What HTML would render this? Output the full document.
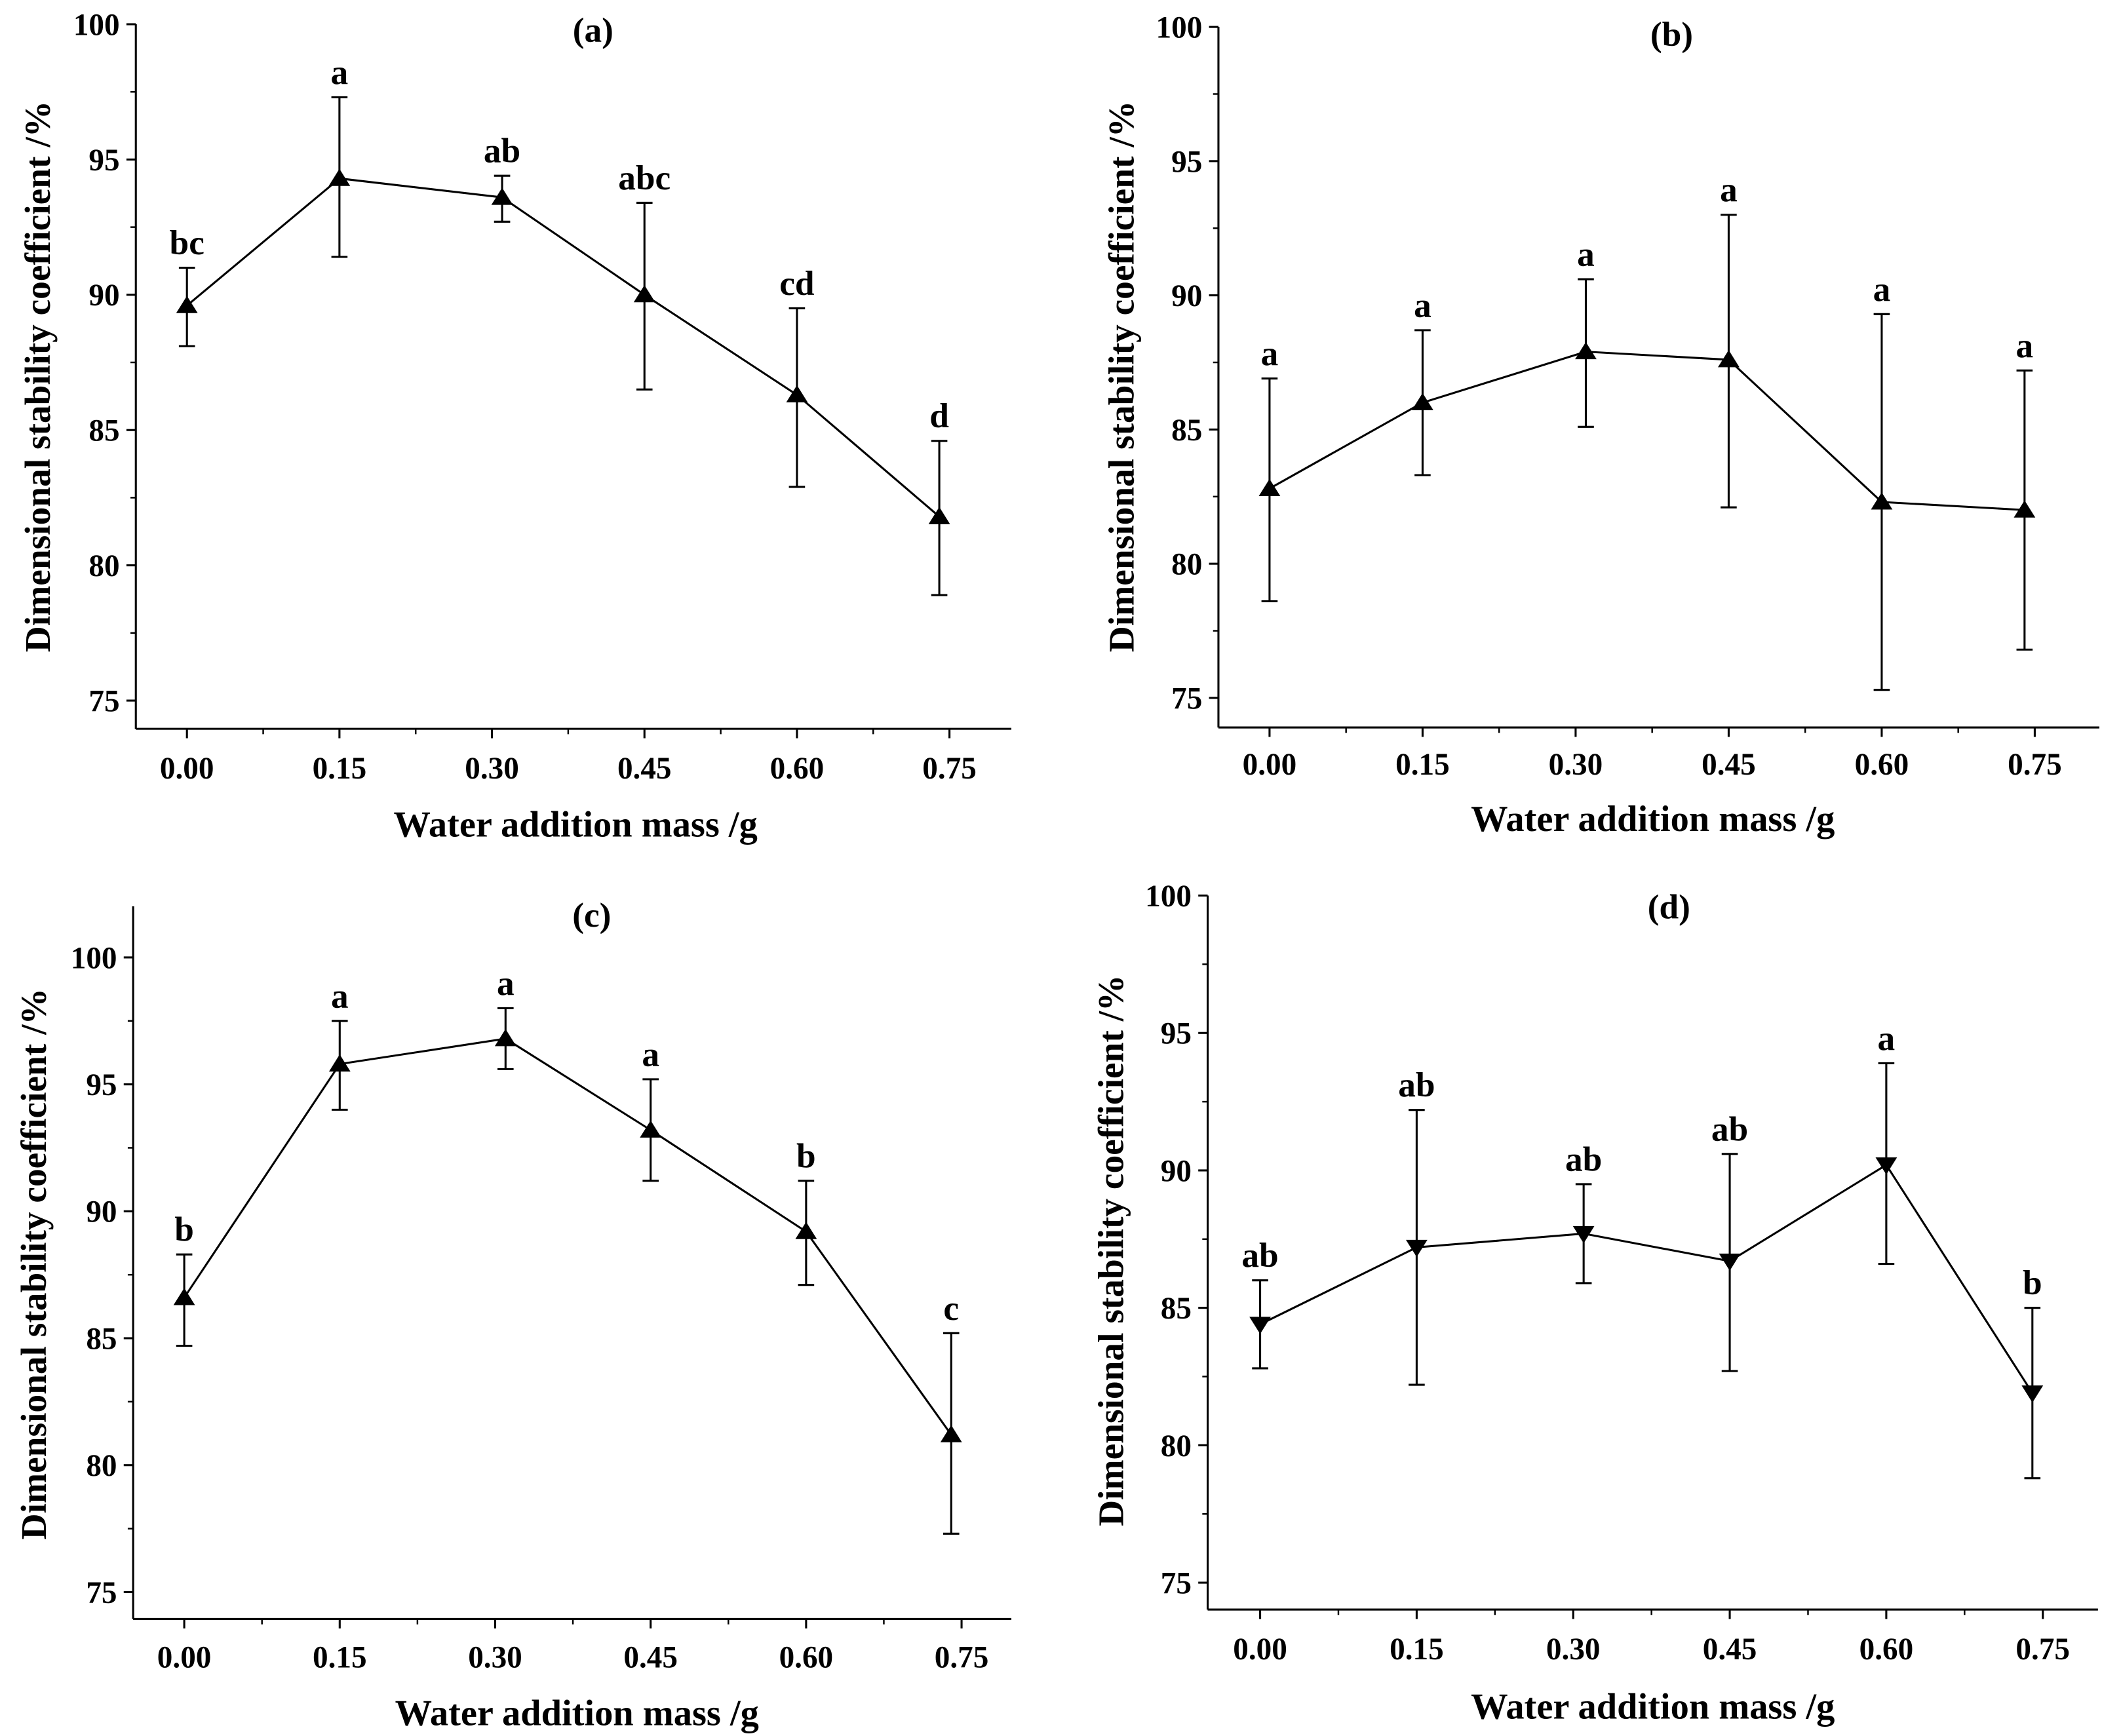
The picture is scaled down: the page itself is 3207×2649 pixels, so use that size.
<!DOCTYPE html>
<html><head><meta charset="utf-8"><style>
html,body{margin:0;padding:0;background:#fff;}
svg{display:block;}
text{font-family:"Liberation Serif",serif;font-weight:bold;fill:#000;}
</style></head><body>
<svg id="fig" width="3207" height="2649" viewBox="0 0 1563 1291" xmlns="http://www.w3.org/2000/svg"></svg>
<script>
const xCats = [0.00, 0.15, 0.30, 0.45, 0.60, 0.75];
const xTickLabels = ["0.00","0.15","0.30","0.45","0.60","0.75"];
const yTicks = [75, 80, 85, 90, 95, 100];

const aX = [0.00, 0.15, 0.31, 0.45, 0.60, 0.74];
const aY = [89.6, 94.3, 93.6, 90.0, 86.3, 81.8];
const aLo = [88.1, 91.4, 92.7, 86.5, 82.9, 78.9];
const aHi = [91.0, 97.3, 94.4, 93.4, 89.5, 84.6];
const aLetters = ["bc","a","ab","abc","cd","d"];

const bX = [0.00, 0.15, 0.31, 0.45, 0.60, 0.74];
const bY = [82.8, 86.0, 87.9, 87.6, 82.3, 82.0];
const bLo = [78.6, 83.3, 85.1, 82.1, 75.3, 76.8];
const bHi = [86.9, 88.7, 90.6, 93.0, 89.3, 87.2];
const bLetters = ["a","a","a","a","a","a"];

const cX = [0.00, 0.15, 0.31, 0.45, 0.60, 0.74];
const cY = [86.6, 95.8, 96.8, 93.2, 89.2, 81.2];
const cLo = [84.7, 94.0, 95.6, 91.2, 87.1, 77.3];
const cHi = [88.3, 97.5, 98.0, 95.2, 91.2, 85.2];
const cLetters = ["b","a","a","a","b","c"];

const dX = [0.00, 0.15, 0.31, 0.45, 0.60, 0.74];
const dY = [84.4, 87.2, 87.7, 86.7, 90.2, 81.9];
const dLo = [82.8, 82.2, 85.9, 82.7, 86.6, 78.8];
const dHi = [86.0, 92.2, 89.5, 90.6, 93.9, 85.0];
const dLetters = ["ab","ab","ab","ab","a","b"];

const NS = "http://www.w3.org/2000/svg";
const svg = document.getElementById('fig');
function mk(tag, attrs, parent){
  const e = document.createElementNS(NS, tag);
  for (const k in attrs) e.setAttribute(k, attrs[k]);
  (parent||svg).appendChild(e); return e;
}

const panels = [
  {id:'a', ax:101, y100:18, y75:521, top:18, bottom:542, right:752, x0:139, dx:113.4, title:[441,31], tickY:579, xl:[428,622], yl:[28,280], X:aX,Y:aY,Lo:aLo,Hi:aHi,L:aLetters, down:false},
  {id:'b', ax:906, y100:20, y75:519, top:20, bottom:541, right:1561, x0:944, dx:113.8, title:[1243,34], tickY:576, xl:[1229,618], yl:[834,280], X:bX,Y:bY,Lo:bLo,Hi:bHi,L:bLetters, down:false},
  {id:'c', ax:99, y100:712, y75:1184, top:674, bottom:1204, right:752, x0:137, dx:115.6, title:[440,689], tickY:1240, xl:[429,1283], yl:[25,940], X:cX,Y:cY,Lo:cLo,Hi:cHi,L:cLetters, down:false},
  {id:'d', ax:898, y100:666, y75:1177, top:666, bottom:1197, right:1560, x0:937, dx:116.4, title:[1241,683], tickY:1234, xl:[1229,1278], yl:[826,930], X:dX,Y:dY,Lo:dLo,Hi:dHi,L:dLetters, down:true}
];

panels.forEach(p=>{
  const g = mk('g',{});
  
  
  const sy = v => p.y75 + (75 - v)*(p.y75 - p.y100)/25;
  const sx = v => p.x0 + v/0.15*p.dx;
  const ya = mk('line',{x1:p.ax,y1:p.top,x2:p.ax,y2:p.bottom,stroke:'#000','stroke-width':1.5},g);
  
  
  const xa = mk('line',{x1:p.ax,y1:p.bottom,x2:p.right,y2:p.bottom,stroke:'#000','stroke-width':1.5},g);
  
  
  yTicks.forEach(v=>{
    const y = sy(v);
    mk('line',{x1:p.ax-7,y1:y,x2:p.ax,y2:y,stroke:'#000','stroke-width':1.5},g);
    const ym = sy(v+2.5);
    if (ym >= p.top) mk('line',{x1:p.ax-4,y1:ym,x2:p.ax,y2:ym,stroke:'#000','stroke-width':1.2},g);
    const t = mk('text',{x:p.ax-12,y:y+8,'text-anchor':'end','font-size':23},g);
    t.textContent = v;
    
    
  });
  xCats.forEach((v,i)=>{
    const x = sx(v);
    mk('line',{x1:x,y1:p.bottom,x2:x,y2:p.bottom+7,stroke:'#000','stroke-width':1.5},g);
    const xm = sx(v+0.075);
    if (xm < p.right) mk('line',{x1:xm,y1:p.bottom,x2:xm,y2:p.bottom+4,stroke:'#000','stroke-width':1.2},g);
    const t = mk('text',{x:x,y:p.tickY,'text-anchor':'middle','font-size':23},g);
    t.textContent = xTickLabels[i];
    
    
  });
  const xmin = sx(-0.075);
  if (xmin > p.ax) mk('line',{x1:xmin,y1:p.bottom,x2:xmin,y2:p.bottom+4,stroke:'#000','stroke-width':1.2},g);
  const tt = mk('text',{x:p.title[0],y:p.title[1],'text-anchor':'middle','font-size':26},g);
  tt.textContent = '('+p.id+')';
  
  
  const xl = mk('text',{x:p.xl[0],y:p.xl[1],'text-anchor':'middle','font-size':27.5},g);
  xl.textContent = 'Water addition mass /g';
  
  
  const yl = mk('text',{x:0,y:0,'text-anchor':'middle','font-size':27,transform:`translate(${p.yl[0]+9},${p.yl[1]}) rotate(-90)`},g);
  yl.textContent = 'Dimensional stability coefficient /%';
  
  
  const pts = p.X.map((v,i)=>sx(v)+','+sy(p.Y[i])).join(' ');
  const pl = mk('polyline',{points:pts,fill:'none',stroke:'#000','stroke-width':1.5},g);
  
  
  p.X.forEach((v,i)=>{
    const x = sx(v), y = sy(p.Y[i]), yl2 = sy(p.Lo[i]), yh = sy(p.Hi[i]);
    const eb = mk('path',{d:`M${x},${yl2}V${yh}M${x-6},${yh}H${x+6}M${x-6},${yl2}H${x+6}`,stroke:'#000','stroke-width':1.5,fill:'none'},g);
    
    
    const s = 8;
    const d = p.down ? `M${x-s},${y-s*0.7}L${x+s},${y-s*0.7}L${x},${y+s*0.9}Z` : `M${x-s},${y+s*0.7}L${x+s},${y+s*0.7}L${x},${y-s*0.9}Z`;
    const m = mk('path',{d:d,fill:'#000'},g);
    
    
    const lt = mk('text',{x:x,y:yh-10,'text-anchor':'middle','font-size':26},g);
    lt.textContent = p.L[i];
    
    
  });
});
</script>
</body></html>
